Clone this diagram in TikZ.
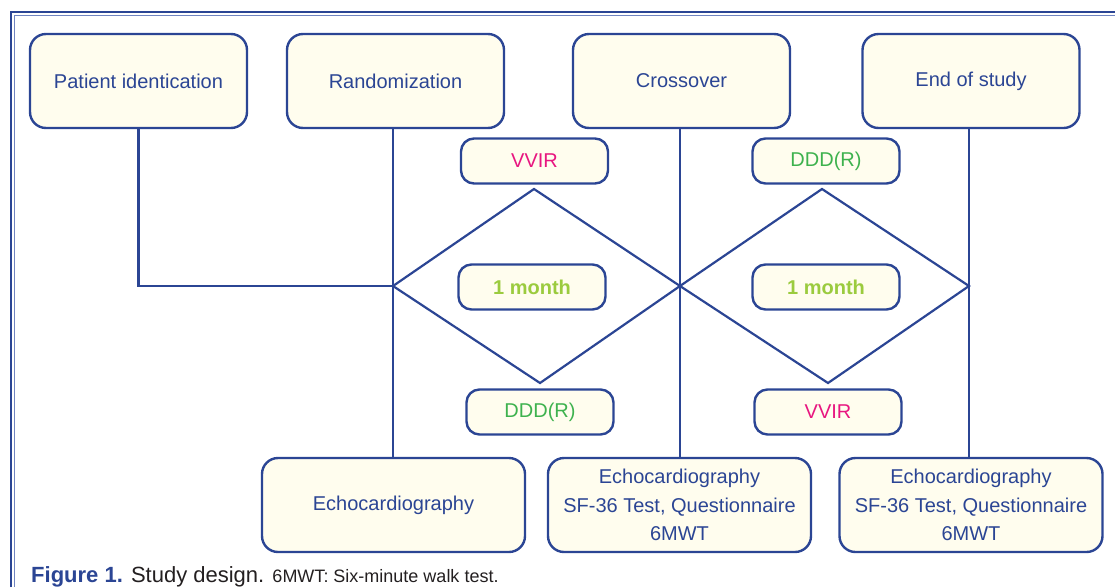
\documentclass[tikz,border=0pt]{standalone}
\usepackage{fontspec}
\setmainfont{Liberation Sans}
\definecolor{frameblue}{RGB}{43,69,148}
\definecolor{thinblue}{RGB}{112,132,192}
\definecolor{boxfill}{RGB}{255,253,238}
\definecolor{vvircol}{RGB}{232,22,128}
\definecolor{dddcol}{RGB}{62,178,78}
\definecolor{monthcol}{RGB}{155,203,62}
\definecolor{captext}{RGB}{35,31,32}
\begin{document}
\begin{tikzpicture}[x=1pt, y=-1pt,
  bigbox/.style={draw=frameblue, fill=boxfill, line width=2.4pt, rounded corners=16pt, minimum width=217pt, minimum height=94pt, inner sep=0pt, align=center, text=frameblue, font=\fontsize{20}{28.5}\selectfont},
  widebox/.style={bigbox, minimum width=263pt},
  smallbox/.style={draw=frameblue, fill=boxfill, line width=2.4pt, rounded corners=13pt, minimum width=147pt, minimum height=45pt, inner sep=0pt, font=\fontsize{20}{24}\selectfont},
  link/.style={draw=frameblue, line width=2.2pt}]
\useasboundingbox (0,0) rectangle (1115,587);
\draw[frameblue, line width=2pt] (10.5,587) -- (10.5,12) -- (1115,12);
\draw[thinblue, line width=1pt] (14,587) -- (14,15.5) -- (1115,15.5);
\foreach \x/\name/\txt in {138.5/pid/Patient identication,395.5/rand/Randomization,681.5/cross/Crossover,971/eos/End of study} {
  \node[bigbox] (\name) at (\x,81) {\txt};
}
\node[widebox] (echoA) at (393.5,505) {Echocardiography};
\node[widebox] (echoB) at (679.5,505) {Echocardiography\\SF-36 Test, Questionnaire\\6MWT};
\node[widebox] (echoC) at (971,505) {Echocardiography\\SF-36 Test, Questionnaire\\6MWT};
\foreach \x/\y/\name/\txt/\col in {534.5/161/vvirA/VVIR/vvircol,826/161/dddA/DDD(R)/dddcol,532/287/monA/{\bfseries 1 month}/monthcol,826/287/monB/{\bfseries 1 month}/monthcol,540/412/dddB/DDD(R)/dddcol,828/412/vvirB/VVIR/vvircol} {
  \node[smallbox, text=\col] (\name) at (\x,\y) {\txt};
}
\coordinate (aW) at (393,286);
\coordinate (aN) at (534,189);
\coordinate (aE) at (680,286);
\coordinate (aS) at (540,383);
\coordinate (bN) at (822,189);
\coordinate (bE) at (969,286);
\coordinate (bS) at (828,383);
\draw[link] (pid.south) |- (aW);
\draw[link] (rand.south -| aW) -- (echoA.north -| aW);
\draw[link] (cross.south -| aE) -- (echoB.north -| aE);
\draw[link] (eos.south -| bE) -- (echoC.north -| bE);
\draw[link] (aW) -- (aN) -- (aE) -- (aS) -- cycle;
\draw[link] (aE) -- (bN) -- (bE) -- (bS) -- cycle;
\node[anchor=base west, inner sep=0pt] (caption) at (31,582) {\fontsize{22}{26}\selectfont\textcolor{frameblue}{\bfseries Figure 1.} \textcolor{captext}{Study design. {\fontsize{18}{22}\selectfont 6MWT: Six-minute walk test.}}};
\end{tikzpicture}
\end{document}
